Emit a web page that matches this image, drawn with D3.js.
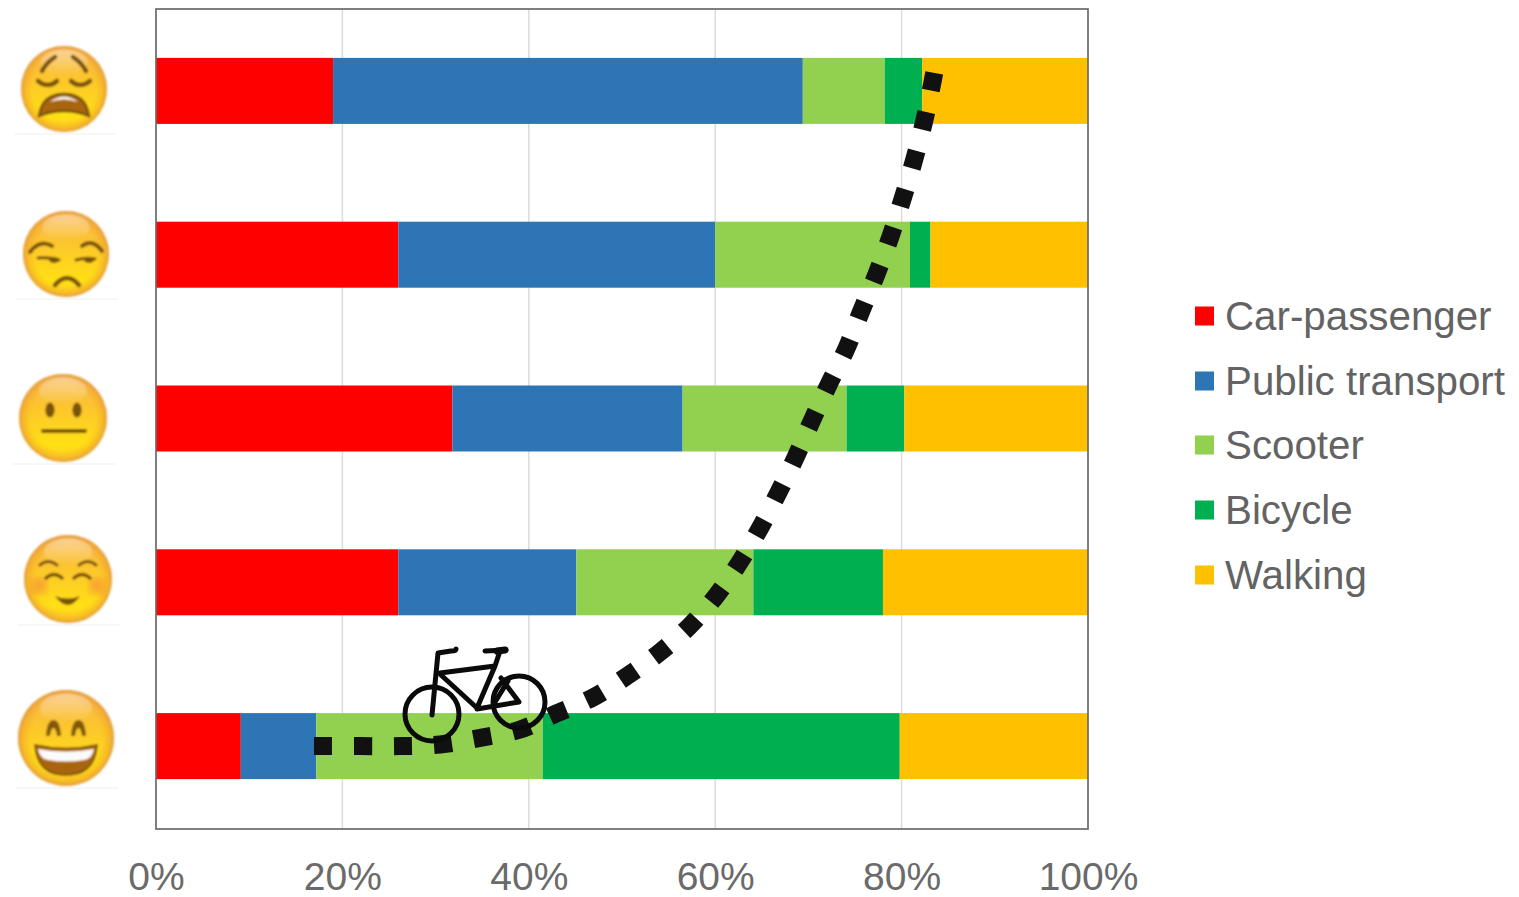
<!DOCTYPE html>
<html>
<head>
<meta charset="utf-8">
<script src="https://cdn.jsdelivr.net/npm/d3@7"></script>
<style>
  html, body { margin: 0; padding: 0; background: #fff; overflow: hidden; }
  text { font-family: "Liberation Sans", Arial, sans-serif; fill: #636363; }
</style>
</head>
<body>
<svg id="chart" width="1519" height="897"></svg>
<script>
// Mood rows, top (worst) to bottom (best)
const moods = ["weary", "unamused", "neutral", "blush", "grin"];
const modes = ["Car-passenger", "Public transport", "Scooter", "Bicycle", "Walking"];
const modeColors = ["#ff0000", "#2e75b6", "#92d050", "#00b050", "#ffc000"];

// Percent share of each mode per mood
const carPassenger = [19.0, 26.0, 31.8, 26.0, 9.1];
const publicTransport = [50.4, 34.0, 24.7, 19.1, 8.1];
const scooter = [8.8, 20.9, 17.6, 19.0, 24.3];
const bicycle = [4.0, 2.2, 6.2, 13.9, 38.3];
const walking = [17.8, 16.9, 19.7, 22.0, 20.2];

const tickValues = [0, 20, 40, 60, 80, 100];

// Dotted trend across the rows: cumulative share against mood position (0 = top row)
const trendShare = [16.95, 21.9, 26.2, 30.5, 34.8, 39.0, 43.0, 47.0, 50.6, 54.0, 57.2, 60.0, 62.6, 64.8, 66.8, 68.6, 70.4, 72.2, 74.1, 75.7, 77.3, 78.8, 80.1, 81.3, 82.4, 83.3, 83.5];
const trendMood = [4.0, 4.0, 4.0, 3.99, 3.95, 3.9, 3.8, 3.7, 3.57, 3.43, 3.27, 3.09, 2.88, 2.67, 2.45, 2.24, 2.01, 1.79, 1.57, 1.34, 1.12, 0.89, 0.66, 0.43, 0.19, -0.05, -0.11];

const svg = d3.select("#chart");
const plotLeft = 156, plotRight = 1088, plotTop = 9, plotBottom = 829;

const x = d3.scaleLinear().domain([0, 100]).range([plotLeft, plotRight]);
const y = d3.scaleBand().domain(moods).range([plotTop, 828]).paddingInner(0.597).paddingOuter(0.2985);
const moodPos = d3.scaleLinear().domain([0, 4])
  .range([y(moods[0]) + y.bandwidth() / 2, y(moods[4]) + y.bandwidth() / 2]);

// Gridlines
svg.append("g").selectAll("line").data(tickValues.slice(1, -1)).join("line")
  .attr("x1", d => x(d)).attr("x2", d => x(d))
  .attr("y1", plotTop).attr("y2", plotBottom)
  .attr("stroke", "#dcdcdc").attr("stroke-width", 1.5);

// Stacked bars
const rows = moods.map((m, i) => ({
  mood: m,
  "Car-passenger": carPassenger[i],
  "Public transport": publicTransport[i],
  "Scooter": scooter[i],
  "Bicycle": bicycle[i],
  "Walking": walking[i]
}));
const stacked = d3.stack().keys(modes)(rows);
svg.append("g").selectAll("g").data(stacked).join("g")
  .attr("fill", (d, i) => modeColors[i])
  .selectAll("rect").data(d => d).join("rect")
  .attr("x", d => x(d[0]))
  .attr("width", d => x(d[1]) - x(d[0]))
  .attr("y", d => y(d.data.mood))
  .attr("height", y.bandwidth());

// Plot frame
svg.append("rect")
  .attr("x", plotLeft).attr("y", plotTop)
  .attr("width", plotRight - plotLeft).attr("height", plotBottom - plotTop)
  .attr("fill", "none").attr("stroke", "#6a6a6a").attr("stroke-width", 1.7);

// Percent axis
const axis = svg.append("g")
  .attr("transform", `translate(0,${plotBottom})`)
  .call(d3.axisBottom(x).tickValues(tickValues).tickSize(0).tickPadding(33).tickFormat(d => d + "%"));
axis.select(".domain").remove();
axis.selectAll("text")
  .attr("font-size", 39).attr("font-family", null).style("fill", "#6a6a6a");

// Legend
const legend = svg.append("g").selectAll("g").data(modes).join("g")
  .attr("transform", (d, i) => `translate(1195,${[316, 381, 445, 510, 575][i]})`);
legend.append("rect")
  .attr("y", -9.5).attr("width", 19).attr("height", 19)
  .attr("fill", (d, i) => modeColors[i]);
legend.append("text")
  .attr("x", 30).attr("y", 13.5).attr("font-size", 40.3).text(d => d);

// Dotted trend curve
svg.append("path")
  .datum(trendShare.map((s, i) => [s, trendMood[i]]))
  .attr("d", d3.line().x(d => x(d[0])).y(d => moodPos(d[1])).curve(d3.curveCatmullRom))
  .attr("fill", "none").attr("stroke", "#111").attr("stroke-width", 18)
  .attr("stroke-dasharray", "18 22");

// Bicycle pictogram
const bike = svg.append("g")
  .attr("fill", "none").attr("stroke", "#0a0a0a").attr("stroke-width", 5)
  .attr("stroke-linecap", "round").attr("stroke-linejoin", "round");
bike.append("circle").attr("cx", 432).attr("cy", 714).attr("r", 27);
bike.append("circle").attr("cx", 519).attr("cy", 702).attr("r", 26);
bike.append("path").attr("d",
  "M432 715 L438 653 L451 651 Q456 651 456 649 " +
  "M440 673 L495 666 M441 675 L477 708 L495 666 " +
  "M477 709 L519 702 L501 678 M495 702 L508 681 " +
  "M495 666 L500 651 M485 651 L506 650");
bike.append("path").attr("stroke-width", 7).attr("d", "M497 651 L505 650");

// Emoji faces
const defs = svg.append("defs");
const faceGrad = defs.append("linearGradient").attr("id", "faceFill")
  .attr("x1", 0).attr("y1", 0).attr("x2", 0).attr("y2", 1);
[[0, "#f8b85a"], [0.35, "#fcc42f"], [0.8, "#ffe015"], [1, "#fdd128"]]
  .forEach(([o, c]) => faceGrad.append("stop").attr("offset", o).attr("stop-color", c));
const rimGrad = defs.append("radialGradient").attr("id", "faceRim");
[[0.74, "#f5a623", 0], [0.93, "#f0a02c", 0.6], [1, "#d99a4a", 1]]
  .forEach(([o, c, a]) => rimGrad.append("stop").attr("offset", o).attr("stop-color", c).attr("stop-opacity", a));
const shineGrad = defs.append("linearGradient").attr("id", "faceShine")
  .attr("x1", 0).attr("y1", 0).attr("x2", 0).attr("y2", 1);
shineGrad.append("stop").attr("offset", 0).attr("stop-color", "#fff").attr("stop-opacity", 0.42);
shineGrad.append("stop").attr("offset", 1).attr("stop-color", "#fff").attr("stop-opacity", 0);
defs.append("filter").attr("id", "soft").append("feGaussianBlur").attr("stdDeviation", 0.9);
defs.append("filter").attr("id", "cheek").append("feGaussianBlur").attr("stdDeviation", 5);

const faceBrown = "#7a520c", mouthBrown = "#a9650f";
function stroke(g, d, w) {
  g.append("path").attr("d", d).attr("fill", "none").attr("stroke", faceBrown)
    .attr("stroke-width", w).attr("stroke-linecap", "round");
}
const features = {
  weary: g => {
    stroke(g, "M-22 -18 Q-18 -26 -9 -32 M22 -18 Q18 -26 9 -32", 4.5);
    stroke(g, "M-26 -8 Q-16 0 -7 -8 M26 -8 Q16 0 7 -8", 4.5);
    g.append("path").attr("fill", mouthBrown).attr("stroke", faceBrown).attr("stroke-width", 2.5)
      .attr("d", "M-25 27 Q-22 5 0 5 Q22 5 25 27 Q0 17 -25 27 Z");
    g.append("path").attr("fill", "#f6f1e4").attr("d", "M-14 13 Q0 2 14 13 Q0 8 -14 13 Z");
  },
  unamused: g => {
    stroke(g, "M-36 -2 Q-26 -15 -14 -8 M36 -3 Q26 -16 16 -8", 4);
    stroke(g, "M-28 4 Q-16 3 -7 6 M10 6 Q20 3 29 5", 3);
    g.append("ellipse").attr("cx", -12).attr("cy", 6).attr("rx", 5).attr("ry", 3).attr("fill", faceBrown);
    g.append("ellipse").attr("cx", 23).attr("cy", 6).attr("rx", 5).attr("ry", 3).attr("fill", faceBrown);
    stroke(g, "M-11 31 Q1 17 13 31", 4.5);
  },
  neutral: g => {
    g.append("ellipse").attr("cx", -13).attr("cy", -8).attr("rx", 4.6).attr("ry", 7.5).attr("fill", faceBrown);
    g.append("ellipse").attr("cx", 14).attr("cy", -8).attr("rx", 4.6).attr("ry", 7.5).attr("fill", faceBrown);
    stroke(g, "M-20 13 L22 13", 4);
  },
  blush: g => {
    g.append("circle").attr("cx", -29).attr("cy", 7).attr("r", 8).attr("fill", "#f4873a").attr("opacity", 0.75).attr("filter", "url(#cheek)");
    g.append("circle").attr("cx", 29).attr("cy", 7).attr("r", 8).attr("fill", "#f4873a").attr("opacity", 0.75).attr("filter", "url(#cheek)");
    stroke(g, "M-28 -14 Q-20 -21 -11 -14 M28 -14 Q20 -21 11 -14", 3);
    stroke(g, "M-22 -1 Q-14 -8 -6 -1 M22 -1 Q14 -8 6 -1", 3.5);
    g.append("path").attr("fill", faceBrown).attr("d", "M-13 17 Q0 22 12 17 Q0 35 -13 17 Z");
  },
  grin: g => {
    g.append("path").attr("fill", faceBrown).attr("opacity", 0.95)
      .attr("d", "M-20 -2 Q-19 -18 -12.5 -18 Q-6 -18 -5 -2 L-9 -2 Q-10 -10 -12.5 -10 Q-15 -10 -16 -2 Z M5 -2 Q6 -18 12.5 -18 Q19 -18 20 -2 L16 -2 Q15 -10 12.5 -10 Q10 -10 9 -2 Z");
    g.append("path").attr("fill", mouthBrown).attr("stroke", "#6f4a08").attr("stroke-width", 1.5)
      .attr("d", "M-31 7 Q0 14 31 7 Q29 37 0 37 Q-29 37 -31 7 Z");
    g.append("path").attr("fill", "#fbfbfb").attr("d", "M-28 11 Q0 16 28 11 Q26 21 18 22 Q0 25 -18 22 Q-26 21 -28 11 Z");
  }
};

const faceSpots = { weary: [64, 89, 43], unamused: [66, 254, 43], neutral: [63, 418, 44], blush: [68, 579, 44], grin: [66, 738, 48] };
moods.forEach(m => {
  const [cx, cy, r] = faceSpots[m];
  svg.append("line").attr("x1", cx - 50).attr("x2", cx + 52).attr("y1", cy + r + 2).attr("y2", cy + r + 2)
    .attr("stroke", "#f4f4f4").attr("stroke-width", 1.5);
  const g = svg.append("g").attr("transform", `translate(${cx},${cy})`).attr("filter", "url(#soft)");
  g.append("circle").attr("r", r).attr("fill", "url(#faceFill)");
  g.append("circle").attr("r", r).attr("fill", "url(#faceRim)");
  g.append("ellipse").attr("cy", -r * 0.62).attr("rx", r * 0.55).attr("ry", r * 0.3).attr("fill", "url(#faceShine)");
  features[m](g);
});
</script>
</body>
</html>
